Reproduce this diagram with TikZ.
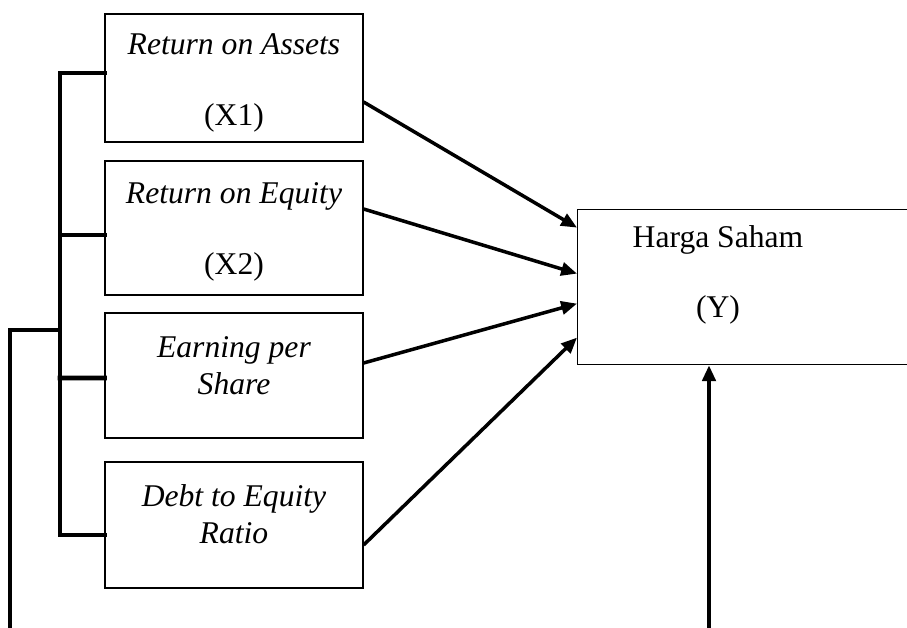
\documentclass[tikz,border=0pt]{standalone}
\usepackage{fontspec}
\setmainfont{Liberation Serif}
\usetikzlibrary{arrows.meta,calc}
\tikzset{
 varbox/.style={draw, line width=0.7pt, minimum width=258*0.02cm, inner sep=0pt},
 vartext/.style={align=center, inner sep=0pt},
 link/.style={line width=2pt, ->},
 brace/.style={line width=2.8pt, line cap=rect}
}
\begin{document}
\begin{tikzpicture}[line join=miter,x=0.02cm,y=-0.02cm,>={Triangle[length=9pt,width=7.5pt]}, font=\fontsize{18}{21}\selectfont]
 \useasboundingbox (0,0) rectangle (907,628);
 \clip (0,0) rectangle (907,628);
 % variabel bebas
 \node[varbox, minimum height=128*0.02cm] (x1) at (234,78) {};
 \node[varbox, minimum height=134*0.02cm] (x2) at (234,228) {};
 \node[varbox, minimum height=125*0.02cm] (x3) at (234,375.5) {};
 \node[varbox, minimum height=126*0.02cm] (x4) at (234,525) {};
 \node[vartext] (x1t) at ($(x1)+(0,5)$) {\textit{Return on Assets}\\[19pt](X1)};
 \node[vartext] (x2t) at ($(x2)+(0,4)$) {\textit{Return on Equity}\\[19pt](X2)};
 \node[vartext] (x3t) at ($(x3)+(0,-10)$) {\textit{Earning per}\\\textit{Share}};
 \node[vartext] (x4t) at ($(x4)+(0,-11)$) {\textit{Debt to Equity}\\\textit{Ratio}};
 % variabel terikat
 \node[draw, line width=0.7pt, minimum width=360*0.02cm, minimum height=155*0.02cm, anchor=north west, inner sep=0pt] (y) at (577,209) {};
 \node[vartext] (yt) at (718,275) {Harga Saham\\[19pt](Y)};
 % panah parsial
 \draw[link] ($(x1.east)+(0,24)$) -- ($(y.west)+(0,-59.5)$);
 \draw[link] ($(x2.east)+(0,-19)$) -- ($(y.west)+(0,-13.5)$);
 \draw[link] ($(x3.east)+(0,-12.5)$) -- ($(y.west)+(0,16.5)$);
 \draw[link] ($(x4.east)+(0,20)$) -- ($(y.west)+(0,50.5)$);
 % simultan
 \coordinate (j) at (60,330);
 \draw[brace] ($(x1.west)+(0,-5)$) -| (60,535) -- ($(x4.west)+(0,10)$);
 \draw[brace] (60,235) -- ($(x2.west)+(0,7)$);
 \draw[brace] (60,378) -- ($(x3.west)+(0,2.5)$);
 \draw[line width=2.8pt, ->] (j) -- (10,330) -- (10,660) -- (709,660) -- (y.south -| 709,0);
\end{tikzpicture}
\end{document}
